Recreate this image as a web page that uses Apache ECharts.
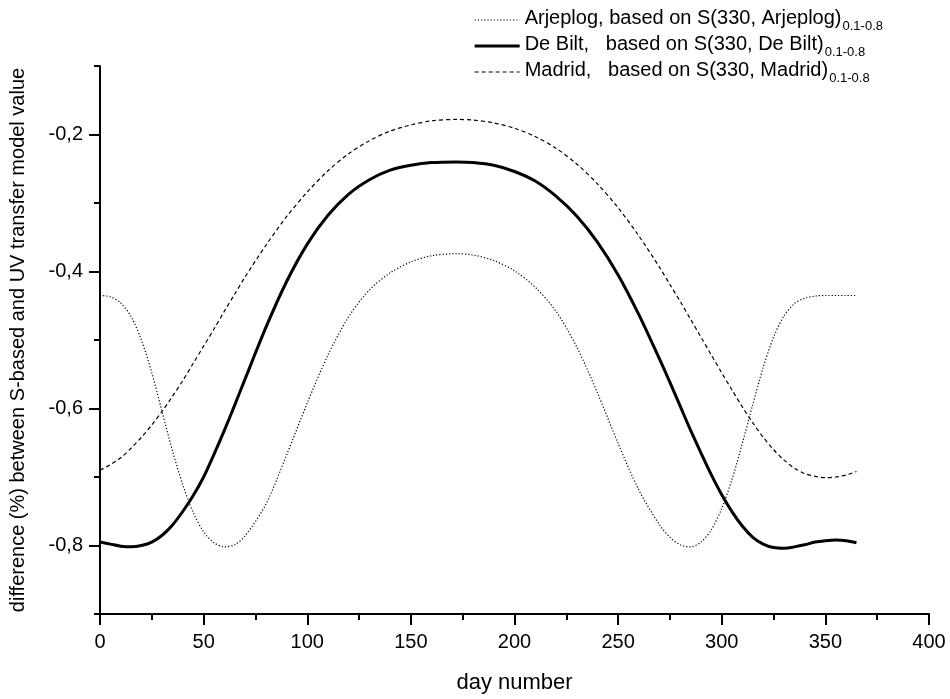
<!DOCTYPE html>
<html>
<head>
<meta charset="utf-8">
<script src="https://cdn.jsdelivr.net/npm/echarts@6.0.0/dist/echarts.min.js"></script>
<style>
  html, body { margin: 0; padding: 0; background: #fff; }
  #chart { width: 950px; height: 699px; }
</style>
</head>
<body>
<div id="chart"></div>
<script>
// Day of year at which each curve is sampled
const dayNumbers = [0, 5, 10, 15, 20, 25, 30, 35, 40, 45, 50, 55, 60, 65, 70, 80, 90, 100, 110, 120,
  130, 140, 150, 160, 172, 180, 190, 200, 210, 220, 230, 240, 250, 260, 270, 275, 280, 285, 290,
  295, 300, 305, 310, 315, 320, 325, 330, 335, 340, 345, 350, 355, 360, 365];

// Difference (%) between S-based and UV transfer model value
const arjeplog = [-0.435, -0.437, -0.446, -0.466, -0.500, -0.548, -0.605, -0.662, -0.712, -0.752,
  -0.780, -0.796, -0.802, -0.799, -0.786, -0.740, -0.668, -0.592, -0.522, -0.466,
  -0.427, -0.402, -0.386, -0.377, -0.374, -0.376, -0.384, -0.399, -0.423, -0.458,
  -0.510, -0.577, -0.651, -0.719, -0.770, -0.788, -0.799, -0.802, -0.795,
  -0.777, -0.746, -0.703, -0.650, -0.594, -0.540, -0.496, -0.465, -0.447, -0.439,
  -0.436, -0.435, -0.435, -0.435, -0.435];

const deBilt = [-0.795, -0.798, -0.801, -0.802, -0.800, -0.795, -0.785, -0.770, -0.750, -0.727,
  -0.700, -0.667, -0.632, -0.595, -0.557, -0.482, -0.415, -0.360, -0.318, -0.287,
  -0.266, -0.252, -0.245, -0.241, -0.240, -0.241, -0.245, -0.254, -0.268, -0.290,
  -0.319, -0.357, -0.405, -0.463, -0.528, -0.562, -0.597, -0.632, -0.665,
  -0.697, -0.726, -0.751, -0.772, -0.788, -0.798, -0.803, -0.804, -0.802, -0.799,
  -0.795, -0.793, -0.792, -0.793, -0.796];

const madrid = [-0.690, -0.682, -0.672, -0.658, -0.642, -0.624, -0.604, -0.582, -0.559, -0.534,
  -0.509, -0.484, -0.458, -0.433, -0.408, -0.362, -0.320, -0.284, -0.253, -0.228,
  -0.209, -0.195, -0.186, -0.180, -0.178, -0.179, -0.183, -0.191, -0.203, -0.220,
  -0.243, -0.272, -0.307, -0.348, -0.394, -0.419, -0.444, -0.470, -0.496,
  -0.522, -0.548, -0.573, -0.598, -0.621, -0.642, -0.660, -0.675, -0.687, -0.695,
  -0.699, -0.701, -0.700, -0.697, -0.692];

// Legend entries: main text and the subscript range
const seriesNames = ['Arjeplog', 'De Bilt', 'Madrid'];
const legendTexts = {
  'Arjeplog': 'Arjeplog, based on S(330, Arjeplog)',
  'De Bilt': 'De Bilt,   based on S(330, De Bilt)',
  'Madrid': 'Madrid,   based on S(330, Madrid)'
};
const legendSubscript = '0.1-0.8';

// Axis tick values
const yLabelTicks = [-0.8, -0.6, -0.4, -0.2];
const yMinorTicks = [-0.9, -0.7, -0.5, -0.3, -0.1];

const FONT = "'Liberation Sans', Arial, Helvetica, sans-serif";

// Line styles per location
const lineStyles = {
  'Arjeplog': { color: '#000', width: 1.2, type: [1.2, 2] },
  'De Bilt': { color: '#000', width: 3, type: 'solid' },
  'Madrid': { color: '#000', width: 1.2, type: [4, 3] }
};

function pairs(values) {
  return dayNumbers.map((d, i) => [d, values[i]]);
}

const chart = echarts.init(document.getElementById('chart'), null, { renderer: 'canvas' });

chart.setOption({
  animation: false,
  backgroundColor: '#ffffff',
  color: ['#000', '#000', '#000'],
  textStyle: { fontFamily: FONT, color: '#000' },
  grid: { left: 97, right: 21, top: 66, bottom: 84, containLabel: false },
  legend: {
    orient: 'vertical',
    right: 62,
    top: 3,
    itemGap: 1,
    itemWidth: 45,
    itemHeight: 14,
    selectedMode: false,
    data: seriesNames.map(n => ({ name: n, lineStyle: lineStyles[n] })),
    // line-only legend keys: hide the marker drawn in the middle of each key
    itemStyle: { opacity: 0 },
    formatter: name => '{m|' + legendTexts[name] + '}{s|' + legendSubscript + '}',
    textStyle: {
      color: '#000',
      fontFamily: FONT,
      rich: {
        m: { fontSize: 20, fontFamily: FONT, color: '#000', verticalAlign: 'top', lineHeight: 24 },
        s: { fontSize: 13, fontFamily: FONT, color: '#000', verticalAlign: 'top', lineHeight: 13, padding: [12, 0, 0, 1] }
      }
    }
  },
  xAxis: {
    type: 'value',
    min: 0,
    max: 400,
    interval: 50,
    name: 'day number',
    nameLocation: 'middle',
    nameGap: 58,
    nameTextStyle: { fontSize: 22, color: '#000', fontFamily: FONT },
    axisLine: { show: true, onZero: false, lineStyle: { color: '#000', width: 2 } },
    axisTick: { show: true, length: 11, lineStyle: { color: '#000', width: 2 } },
    minorTick: { show: true, splitNumber: 2, length: 6, lineStyle: { color: '#000', width: 2 } },
    axisLabel: { fontSize: 20, color: '#000', margin: 18, fontFamily: FONT },
    splitLine: { show: false },
    minorSplitLine: { show: false }
  },
  yAxis: [
    {
      type: 'value',
      position: 'left',
      min: -0.9,
      max: -0.1,
      name: 'difference (%) between S-based and UV transfer model value',
      nameLocation: 'middle',
      nameRotate: 90,
      nameGap: 72,
      nameTextStyle: { fontSize: 20, color: '#000', fontFamily: FONT },
      axisLine: { show: true, onZero: false, lineStyle: { color: '#000', width: 2 } },
      axisTick: { show: true, length: 11, customValues: yLabelTicks, lineStyle: { color: '#000', width: 2 } },
      axisLabel: {
        fontSize: 20, color: '#000', margin: 17, fontFamily: FONT,
        customValues: yLabelTicks,
        formatter: v => v.toFixed(1).replace('.', ',')
      },
      splitLine: { show: false }
    },
    {
      type: 'value',
      position: 'left',
      min: -0.9,
      max: -0.1,
      axisLine: { show: false },
      axisTick: { show: true, length: 6, customValues: yMinorTicks, lineStyle: { color: '#000', width: 2 } },
      axisLabel: { show: false },
      splitLine: { show: false }
    }
  ],
  series: [
    {
      name: 'Arjeplog',
      type: 'line',
      yAxisIndex: 0,
      data: pairs(arjeplog),
      smooth: 0.3,
      symbol: 'none',
      itemStyle: { color: '#000' },
      lineStyle: lineStyles['Arjeplog']
    },
    {
      name: 'De Bilt',
      type: 'line',
      yAxisIndex: 0,
      data: pairs(deBilt),
      smooth: 0.3,
      symbol: 'none',
      itemStyle: { color: '#000' },
      lineStyle: lineStyles['De Bilt']
    },
    {
      name: 'Madrid',
      type: 'line',
      yAxisIndex: 0,
      data: pairs(madrid),
      smooth: 0.3,
      symbol: 'none',
      itemStyle: { color: '#000' },
      lineStyle: lineStyles['Madrid']
    }
  ]
});
</script>
</body>
</html>
